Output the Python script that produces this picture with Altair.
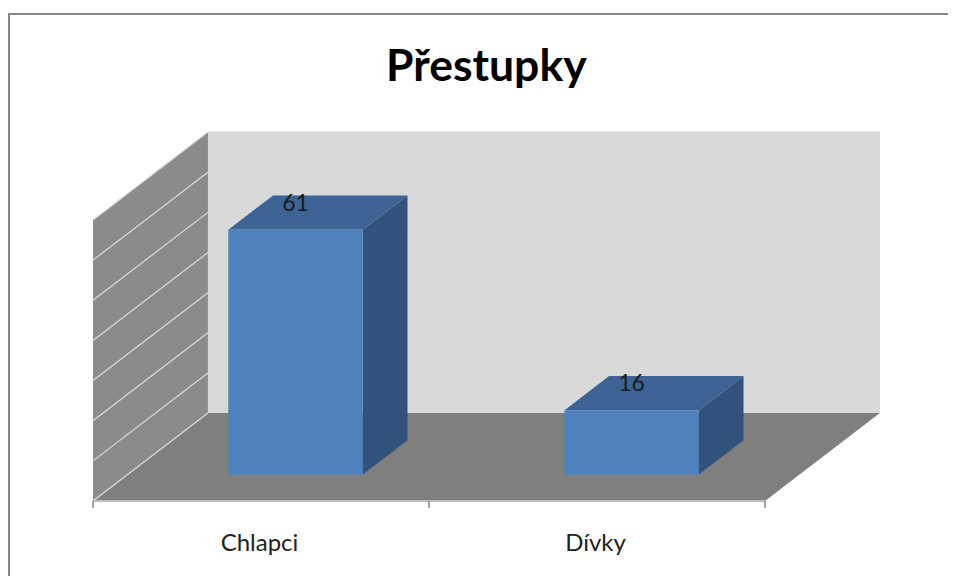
import altair as alt
import pandas as pd

title = "Přestupky"
categories = ["Chlapci", "Dívky"]
values = [61, 16]
grid_values = [0, 10, 20, 30, 40, 50, 60, 70]

# Oblique projection of the depth axis, in category units and value units
DX, DY = 0.342, 21.9
Z0, Z1 = 0.30, 0.69
B0, B1 = 0.30, 0.70
NCAT = len(categories)
VMAX = grid_values[-1]


def px(c, z):
    return c + z * DX


def py(v, z):
    return v + z * DY


xs = alt.Scale(domain=[0, 2], range=[85, 757], nice=False, zero=False)
ys = alt.Scale(domain=[0, 70], range=[383, 102], nice=False, zero=False)
label_map = "{" + ",".join(f"'{i + 0.5}':'{c}'" for i, c in enumerate(categories)) + "}"
X = alt.X(
    "x:Q",
    scale=xs,
    title=None,
    axis=alt.Axis(
        values=[i + 0.5 for i in range(NCAT)],
        labelExpr=f"{label_map}[datum.value]",
        ticks=False,
        grid=False,
        labels=True,
        domain=False,
        labelFont="Lato",
        labelFontSize=24,
        labelColor="#222222",
        labelPadding=30,
        labelOffset=-2,
    ),
)
Y = alt.Y("y:Q", scale=ys, axis=None)

# Walls and floor
back = pd.DataFrame([
    {"x": px(c, 1), "y": py(0, 1), "y2": py(VMAX, 1)} for c in (0, NCAT)
])
floor = pd.DataFrame([
    {"y": py(0, z), "x": px(0, z), "x2": px(NCAT, z)} for z in (0, 1)
])
side = pd.DataFrame([
    {"x": px(0, z), "y": py(0, z), "y2": py(VMAX, z)} for z in (0, 1)
])
grid_left = pd.DataFrame([
    {"x": px(0, z), "y": py(v, z), "v": v} for v in grid_values for z in (0, 1)
])
grid_back = pd.DataFrame([
    {"x": px(c, 1), "y": py(v, 1), "v": v} for v in grid_values[1:] for c in (0, NCAT)
])
base_line = pd.DataFrame([{"x": 0.0, "x2": float(NCAT), "y": 0.0}])
ticks = pd.DataFrame([{"x": float(i), "y": 0.0, "y2": -1.75} for i in range(NCAT + 1)])

# Bars
front_df = pd.DataFrame([
    {"x": px(i + B0, Z0), "x2": px(i + B1, Z0), "y": py(0, Z0), "y2": py(v, Z0)}
    for i, v in enumerate(values)
])
side_df = pd.DataFrame([
    {"x": px(i + B1, z), "y": py(0, z), "y2": py(v, z), "c": categories[i]}
    for i, v in enumerate(values) for z in (Z0, Z1)
])
top_df = pd.DataFrame([
    {"y": py(v, z), "x": px(i + B0, z), "x2": px(i + B1, z), "c": categories[i]}
    for i, v in enumerate(values) for z in (Z0, Z1)
])
label_df = pd.DataFrame([
    {"x": px(i + 0.5, Z0), "y": py(v, Z0), "t": str(v)} for i, v in enumerate(values)
])

layers = [
    alt.Chart(back).mark_area(color="#d9d9d9", opacity=1).encode(x=X, y=Y, y2="y2:Q"),
    alt.Chart(grid_back).mark_line(color="#d6d6d6", strokeWidth=1).encode(x=X, y=Y, detail="v:N"),
    alt.Chart(floor).mark_area(color="#7f7f7f", orient="horizontal", opacity=1).encode(y=Y, x=X, x2="x2:Q"),
    alt.Chart(side).mark_area(color="#8b8b8b", opacity=1).encode(x=X, y=Y, y2="y2:Q"),
    alt.Chart(grid_left).mark_line(color="#dcdcdc", strokeWidth=1.2).encode(x=X, y=Y, detail="v:N"),
    alt.Chart(base_line).mark_rule(color="#bdbdbd", strokeWidth=2).encode(x=X, x2="x2:Q", y=Y),
    alt.Chart(ticks).mark_rule(color="#868686", strokeWidth=1.5).encode(x=X, y=Y, y2="y2:Q"),
    alt.Chart(side_df).mark_area(color="#31527b", opacity=1).encode(x=X, y=Y, y2="y2:Q", detail="c:N"),
    alt.Chart(top_df).mark_area(color="#3d6394", orient="horizontal", opacity=1).encode(y=Y, x=X, x2="x2:Q", detail="c:N"),
    alt.Chart(front_df).mark_rect(color="#4f81bd", opacity=1).encode(x=X, x2="x2:Q", y=Y, y2="y2:Q"),
    alt.Chart(label_df).mark_text(font="Lato", fontSize=23, color="#1a1a1a", dy=-26).encode(x=X, y=Y, text="t:N"),
    # Chart frame
    alt.Chart(pd.DataFrame({"a": [0]})).mark_rule(color="#868686", strokeWidth=2).encode(
        x=alt.value(0), x2=alt.value(940), y=alt.value(-104)
    ),
    alt.Chart(pd.DataFrame({"a": [0]})).mark_rule(color="#868686", strokeWidth=2).encode(
        x=alt.value(1), y=alt.value(-104), y2=alt.value(458)
    ),
]

chart = alt.layer(*layers).properties(
    width=940,
    height=383,
    padding={"left": 0, "top": 110, "right": 0, "bottom": 75},
    autosize=alt.AutoSizeParams(type="none"),
    background="white",
    title=alt.TitleParams(
        title, font="Lato", fontSize=44.5, fontWeight="bold", color="#000000",
        anchor="start", dx=378, offset=0, dy=112, baseline="alphabetic", frame="group",
    ),
).configure_view(stroke=None)

chart.save("out.html", embed_options={"renderer": "svg", "actions": False})
